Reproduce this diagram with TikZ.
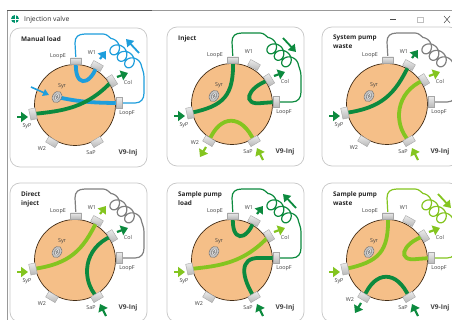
\documentclass[tikz,border=0pt]{standalone}
\usepackage{fontspec}
\setmainfont{Open Sans}
\usetikzlibrary{arrows.meta,backgrounds,shapes.geometric}
\definecolor{blu}{HTML}{1E9EDC}
\definecolor{dk}{HTML}{0C8A3E}
\definecolor{lt}{HTML}{84C520}
\definecolor{gry}{HTML}{808080}
\definecolor{body}{HTML}{F5BF88}
\tikzset{
  panelbox/.style={draw=black!22,line width=.7pt,fill=white,rounded corners=10pt},
  valvebody/.style={draw=black!65!brown,line width=.7pt,fill=body},
  port/.style={draw=black!35,line width=.4pt,top color=black!8,bottom color=black!28,minimum width=11pt,minimum height=6.5pt,inner sep=0pt,outer sep=0pt},
  lab/.style={font=\fontsize{5.4}{6}\selectfont,text=black!75,inner sep=0pt},
  ttl/.style={font=\fontsize{6.4}{9}\bfseries\selectfont,text=black!85,inner sep=0pt,align=left,anchor=north west},
  chan/.style={line width=3.8pt,draw=#1},
  tube/.style={line width=1.2pt,draw=#1,line join=round},
  flow/.style={line width=2.2pt,draw=#1,-{Triangle[length=7pt,width=10pt]}},
  longflow/.style={line width=1.8pt,draw=#1,-{Triangle[length=7pt,width=9pt]}},
  syrring/.style={draw=black!55,line width=.5pt,fill=black!22,rotate=60},
}
% #1 position of the W2 label, #2 prefix, #3 x, #4 y, #5 title, #6 tube colour, #7 channels and arrows
\newcommand{\valve}[7][(-33,44)]{%
\begin{scope}[shift={(#3,#4)},name prefix=#2-]
  \begin{pgfonlayer}{background}
    \node[panelbox,minimum width=137pt,minimum height=139pt,inner sep=0pt] (box) at (3.5,-7.5) {};
    \node[valvebody,circle,minimum size=81pt,inner sep=0pt] (disc) at (0,0) {};
  \end{pgfonlayer}
  \node[port,rotate=0] (LoopE) at (1,-44) {};
  \node[port,rotate=-29] (W1) at (22,-39) {};
  \node[port,rotate=-58] (Col) at (37,-24) {};
  \node[port,rotate=-90] (LoopF) at (44,-2) {};
  \node[port,rotate=31] (SaP) at (22,37) {};
  \node[port,rotate=-31] (W2) at (-23,37) {};
  \node[port,rotate=-78] (SyP) at (-42,9) {};
  \node[syrring,ellipse,minimum width=12pt,minimum height=9pt,inner sep=0pt] (Syr) at (-18,-8) {};
  \node[draw=black!60,line width=.4pt,fill=black!8,ellipse,rotate=60,minimum width=7pt,minimum height=5pt,inner sep=0pt] (SyrC) at (Syr) {};
  \node[draw=black!60,line width=.4pt,fill=black!30,ellipse,rotate=60,minimum width=3.5pt,minimum height=2.5pt,inner sep=0pt] (SyrD) at (Syr) {};
  \node[lab] (tE) at (-17,-49) {LoopE};
  \node[lab] (t1) at (17,-52) {W1};
  \node[lab] (tC) at (53,-23) {Col};
  \node[lab] (tF) at (52,8) {LoopF};
  \node[lab] (tP) at (-48,21) {SyP};
  \node[lab] (t2) at #1 {W2};
  \node[lab] (tS) at (16,48) {SaP};
  \node[lab] (tY) at (-13,-19) {Syr};
  \node[lab,font=\fontsize{6.6}{8}\bfseries\selectfont] (tV) at (53,48) {V9-Inj};
  \node[ttl] (title) at (-54,-69) {#5};
  \coordinate (a) at (0,-62);
  \coordinate (b) at (10,-71);
  \coordinate (c) at (28,-71);
  \coordinate (d) at (69,-28);
  \coordinate (e) at (69,-12);
  \coordinate (f) at (60,-2);
  \coordinate (W1o) at (25,-46); \coordinate (W1t) at (31,-54);
  \coordinate (Colo) at (42,-28); \coordinate (Colt) at (53,-32);
  \coordinate (SyPo) at (-58,12); \coordinate (SyPt) at (-47,12);
  \coordinate (W2o) at (-26,43); \coordinate (W2t) at (-32,53);
  \coordinate (SaPo) at (31,56); \coordinate (SaPt) at (25,44);
  \coordinate (Ci) at (64,-52); \coordinate (Cj) at (51,-66);
  \begin{pgfonlayer}{background}
    \draw[tube=#6] (LoopE.center) -- (a) .. controls (0,-68) and (3,-71) .. (b) -- (c)
      .. controls (32,-71) and (34,-68) .. (36,-66.5)
      -- plot[domain=-90:1080,samples=160] ({36+(\x+90)*0.0205+6.5*cos(\x)},{-60+(\x+90)*0.0180+6.5*sin(\x)})
      .. controls (67,-36) and (69,-33) .. (d) -- (e) .. controls (69,-6) and (66,-2) .. (f) -- (LoopF.center);
    #7
  \end{pgfonlayer}
\end{scope}}
\newcommand{\Ulink}[1]{\draw[chan=#1] (LoopE.center) .. controls (-1,-18) and (14,-18) .. (W1.center);}
\newcommand{\Arch}[1]{\draw[chan=#1] (W2.center) .. controls (-12,10) and (10,10) .. (SaP.center);}
\newcommand{\Pin}[1]{\draw[chan=#1] (Col.center) .. controls (14,-16) and (10,2) .. (30,-1) -- (LoopF.center);}
\newcommand{\Sp}[1]{\draw[chan=#1] (SyP.center) .. controls (-12,6) and (12,3) .. (Col.center);}
\newcommand{\Sw}[1]{\draw[chan=#1] (SyP.center) .. controls (-5,4) and (8,-10) .. (W1.center);}
\newcommand{\Cs}[1]{\draw[chan=#1] (Col.center) .. controls (8,-12) and (6,20) .. (SaP.center);}
\newcommand{\Ep}[1]{\draw[chan=#1] (LoopE.center) .. controls (2,-8) and (-8,2) .. (SyP.center);}
\newcommand{\Fs}[1]{\draw[chan=#1] (LoopF.center) -- (28,-2) .. controls (6,-3) and (10,18) .. (SaP.center);}
\begin{document}
\begin{tikzpicture}[x=1pt,y=-1pt]
\useasboundingbox (0,0) rectangle (452,320);
\begin{pgfonlayer}{background}
\fill[white] (0,0) rectangle (452,320);
\end{pgfonlayer}
\draw[black!40,line width=.8pt] (7,320) -- (7,10) -- (452,10);
\draw[black!65,line width=.8pt] (7,10) -- (152,10);
\node[circle,fill=teal!85!green,minimum size=8pt,inner sep=0pt] (icon) at (15,19) {};
\draw[white,line width=.8pt] (icon.north) -- (icon.south) (icon.west) -- (icon.east);
\node[anchor=west,inner sep=0pt,font=\fontsize{6.8}{8}\selectfont,text=black!80] (wintitle) at (24,19.5) {Injection valve};
\coordinate (m1) at (390,19.5); \coordinate (m2) at (396,19.5);
\draw[black!70,line width=.5pt] (m1) -- (m2);
\node[draw=black!25,line width=.4pt,minimum size=5.5pt,inner sep=0pt] (maxbtn) at (420,19.5) {};
\coordinate (x1) at (444,16); \coordinate (x2) at (450,23);
\coordinate (x3) at (450,16); \coordinate (x4) at (444,23);
\draw[black!70,line width=.5pt] (x1) -- (x2) (x3) -- (x4);

\valve{p1}{75}{105}{Manual load}{blu}{%
  \Ulink{blu}
  \draw[chan=blu] (Syr.center) .. controls (0,-4) and (15,-2) .. (LoopF.center);
  \Sp{dk}
  \draw[flow=blu] (W1o) -- (W1t);
  \draw[flow=dk] (Colo) -- (Colt);
  \draw[flow=dk] (SyPo) -- (SyPt);
  \draw[longflow=blu] (Ci) -- (Cj);
  \coordinate (Si) at (-44,-18); \coordinate (Sj) at (-26,-10);
  \draw[line width=1.6pt,draw=blu,-{Triangle[length=6pt,width=7pt]}] (Si) -- (Sj);
}
\valve[(-37,39)]{p2}{232}{104}{Inject}{dk}{%
  \Ep{dk}\Pin{dk}\Arch{lt}
  \draw[flow=dk] (Colo) -- (Colt);
  \draw[flow=dk] (SyPo) -- (SyPt);
  \draw[flow=lt] (W2o) -- (W2t);
  \draw[flow=lt] (SaPo) -- (SaPt);
  \draw[longflow=dk] (Cj) -- (Ci);
}
\valve{p3}{387}{104}{System pump\\waste}{gry}{%
  \Sw{dk}\Cs{lt}
  \draw[flow=dk] (W1o) -- (W1t);
  \draw[flow=lt] (Colo) -- (Colt);
  \draw[flow=dk] (SyPo) -- (SyPt);
  \draw[flow=lt] (SaPo) -- (SaPt);
}
\valve{p4}{75}{260}{Direct\\inject}{gry}{%
  \Sw{lt}\Cs{dk}
  \draw[flow=lt] (W1o) -- (W1t);
  \draw[flow=dk] (Colo) -- (Colt);
  \draw[flow=lt] (SyPo) -- (SyPt);
  \draw[flow=dk] (SaPo) -- (SaPt);
}
\valve{p5}{232}{260}{Sample pump\\load}{dk}{%
  \Ulink{dk}\Sp{lt}\Fs{dk}
  \draw[flow=dk] (W1o) -- (W1t);
  \draw[flow=lt] (Colo) -- (Colt);
  \draw[flow=lt] (SyPo) -- (SyPt);
  \draw[flow=dk] (SaPo) -- (SaPt);
  \draw[longflow=dk] (Ci) -- (Cj);
}
\valve[(-37,40)]{p6}{387}{260}{Sample pump\\waste}{lt}{%
  \Ep{lt}\Pin{lt}\Arch{dk}
  \draw[flow=lt] (Colo) -- (Colt);
  \draw[flow=lt] (SyPo) -- (SyPt);
  \draw[flow=dk] (W2o) -- (W2t);
  \draw[flow=dk] (SaPo) -- (SaPt);
  \draw[longflow=lt] (Cj) -- (Ci);
}
\end{tikzpicture}
\end{document}
